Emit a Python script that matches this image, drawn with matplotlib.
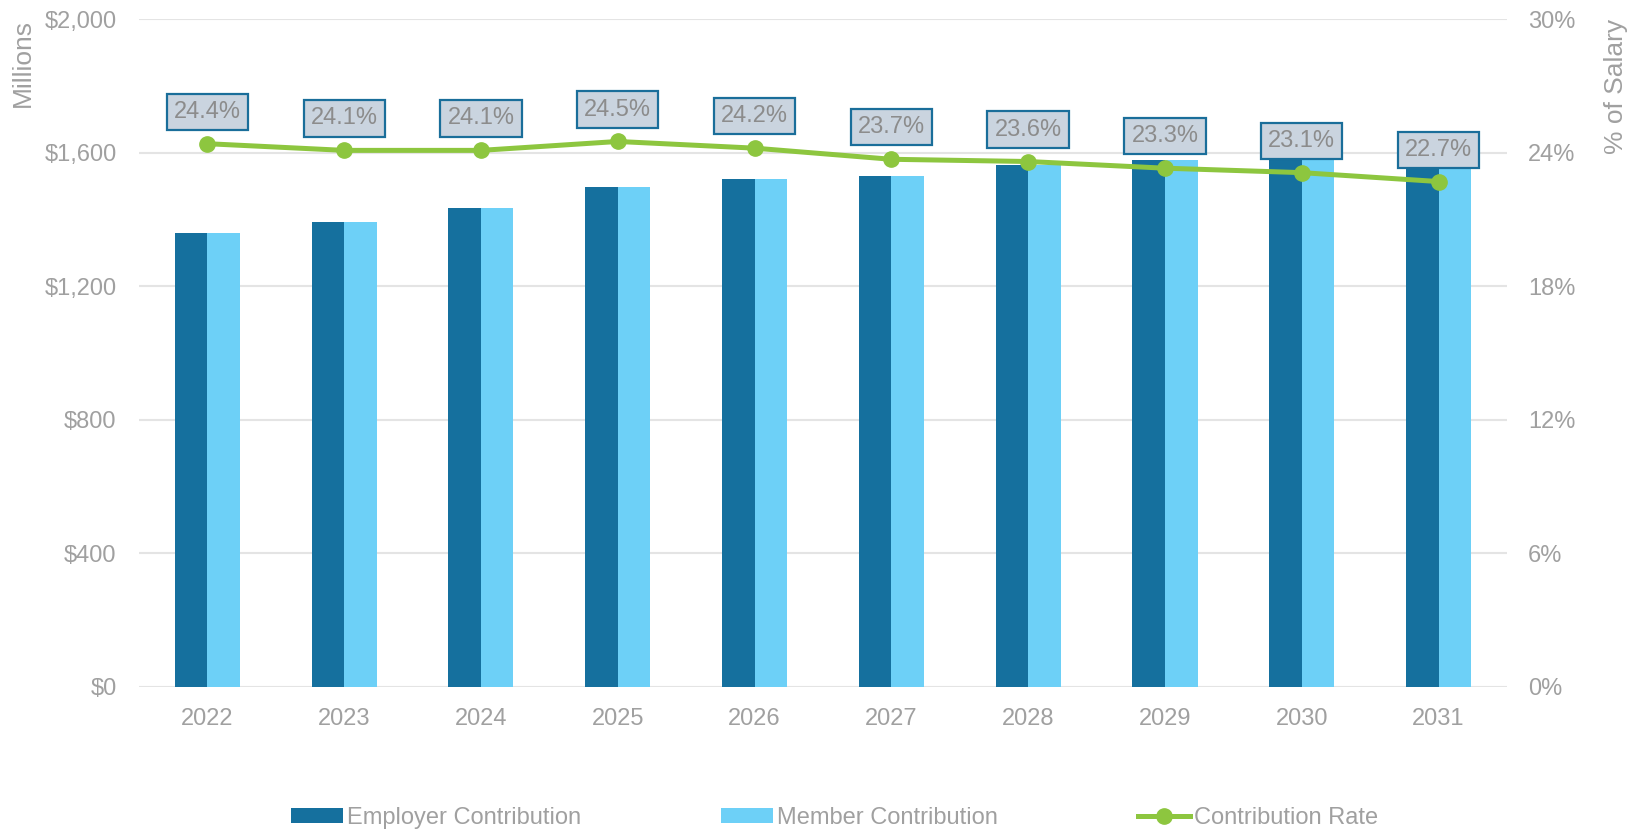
import numpy as np
import matplotlib.pyplot as plt
from matplotlib.ticker import FuncFormatter, MultipleLocator

plt.rcParams['font.family'] = ['Liberation Sans', 'DejaVu Sans']

years = ["2022", "2023", "2024", "2025", "2026", "2027", "2028", "2029", "2030", "2031"]
employer = [1358, 1391, 1435, 1498, 1520, 1529, 1564, 1579, 1592, 1585]
member = [1358, 1391, 1435, 1498, 1520, 1529, 1564, 1579, 1592, 1585]
rate = [24.4, 24.1, 24.1, 24.5, 24.2, 23.7, 23.6, 23.3, 23.1, 22.7]

c_emp = "#15709E"
c_mem = "#6DD0F7"
c_line = "#8DC63F"
c_text = "#A0A0A0"
c_grid = "#E4E4E4"
fs = 17

fig = plt.figure(figsize=(16.5, 8.3), dpi=100)
ax = fig.add_axes([0.0842, 0.1723, 0.8291, 0.8048])
ax2 = ax.twinx()

x = np.arange(len(years))
w = 0.238
ax.bar(x - w / 2, employer, w, color=c_emp, label="Employer Contribution", zorder=2)
ax.bar(x + w / 2, member, w, color=c_mem, label="Member Contribution", zorder=2)

ax.set_ylim(0, 2000)
ax.set_xlim(-0.5, len(years) - 0.5)
ax.yaxis.set_major_locator(MultipleLocator(400))
ax.yaxis.set_major_formatter(FuncFormatter(lambda v, p: "${:,.0f}".format(v)))
ax.grid(axis="y", color=c_grid, linewidth=1.5, zorder=0)
ax.set_axisbelow(True)
ax.set_xticks(x)
ax.set_xticklabels(years)
ax.tick_params(axis="both", length=0, labelsize=fs, colors=c_text)
ax.tick_params(axis="y", pad=16)
ax.tick_params(axis="x", pad=15)
ax.set_ylabel("Millions", fontsize=19, color=c_text, loc="top", labelpad=7)

ln, = ax2.plot(x, rate, color=c_line, linewidth=3.6, marker="o", markersize=11,
               label="Contribution Rate", zorder=3)
ax2.set_ylim(0, 30)
ax2.yaxis.set_major_locator(MultipleLocator(6))
ax2.yaxis.set_major_formatter(FuncFormatter(lambda v, p: "{:.0f}%".format(v)))
ax2.tick_params(axis="y", length=0, labelsize=fs, colors=c_text, pad=15)
ax2.set_ylabel("% of Salary", fontsize=19, color=c_text, loc="top", labelpad=21)

for s in ["top", "right", "left", "bottom"]:
    ax.spines[s].set_visible(False)
    ax2.spines[s].set_visible(False)

for xi, r in zip(x, rate):
    ax2.annotate("{:.1f}%".format(r), (xi, r), xytext=(0, 23), textcoords="offset points",
                 ha="center", va="center", fontsize=fs, color="#8C8C8C", zorder=5,
                 bbox=dict(boxstyle="square,pad=0.3", facecolor="#CAD4DF",
                           edgecolor="#1A6E9A", linewidth=1.6))

h1, l1 = ax.get_legend_handles_labels()
fig.legend(h1 + [ln], l1 + ["Contribution Rate"], loc="center", bbox_to_anchor=(0.5058, 0.0145),
           ncol=3, frameon=False, fontsize=fs, labelcolor=c_text, handlelength=2.2,
           handleheight=0.55, handletextpad=0.2, columnspacing=5.9, borderpad=0)

fig.savefig("out.png", dpi=100)
